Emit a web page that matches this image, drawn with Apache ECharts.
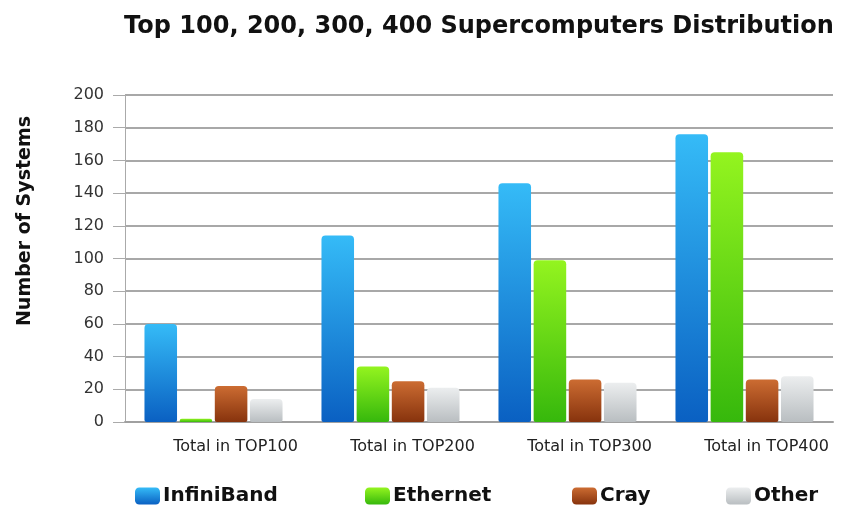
<!DOCTYPE html>
<html lang="en">
  <head>
    <meta charset="UTF-8" />
    <title>Top 100, 200, 300, 400 Supercomputers Distribution</title>
    <script src="https://cdn.jsdelivr.net/npm/echarts@6/dist/echarts.min.js"></script>
    <style>
      * { margin: 0; padding: 0; box-sizing: border-box; }
      body { background: #fff; overflow: hidden; }
      #chart { width: 849px; height: 508px; }
    </style>
  </head>
  <body>
    <div id="chart"></div>
    <script>
      // data
      const categories = ["Total in TOP100", "Total in TOP200", "Total in TOP300", "Total in TOP400"];
      const infiniband = [60, 114, 146, 176];
      const ethernet = [2, 34, 99, 165];
      const cray = [22, 25, 26, 26];
      const other = [14, 21, 24, 28];
      const seriesNames = ["InfiniBand", "Ethernet", "Cray", "Other"];

      // top colour / bottom colour of each bar gradient
      const colours = [
        ["#35bbf7", "#0a60c2"],
        ["#94f41f", "#36b80c"],
        ["#cc6c32", "#87330d"],
        ["#eceeef", "#b9bec1"],
      ];

      function grad(c) {
        return new echarts.graphic.LinearGradient(0, 0, 0, 1, [
          { offset: 0, color: c[0] },
          { offset: 1, color: c[1] },
        ]);
      }

      const allValues = [infiniband, ethernet, cray, other];
      const legendLeft = [135, 365, 572, 726];

      const myChart = echarts.init(document.getElementById("chart"));

      const option = {
        animation: false,
        title: {
          text: "Top 100, 200, 300, 400 Supercomputers Distribution",
          left: 474,
          textAlign: "center",
          top: 10,
          textStyle: {
            fontFamily: "DejaVu Sans",
            fontWeight: "bold",
            fontSize: 24,
            color: "#111",
          },
        },
        // one legend per item so each sits where the reference has it
        legend: seriesNames.map((name, i) => ({
          data: [name],
          left: legendLeft[i],
          top: 486,
          itemWidth: 25,
          itemHeight: 17,
          itemGap: 4,
          padding: 0,
          textStyle: {
            fontFamily: "DejaVu Sans",
            fontWeight: "bold",
            fontSize: 20,
            color: "#111",
            padding: [0, 0, 0, -2],
          },
        })),
        grid: { left: 125, right: 16, top: 95, bottom: 86 },
        xAxis: {
          type: "category",
          data: categories,
          axisTick: { show: false },
          axisLine: { lineStyle: { color: "#a0a0a0", width: 2 } },
          axisLabel: {
            margin: 17,
            padding: [0, 0, 0, 44],
            fontFamily: "DejaVu Sans",
            fontSize: 16,
            color: "#222",
          },
        },
        yAxis: {
          type: "value",
          min: 0,
          max: 200,
          interval: 20,
          name: "Number of Systems",
          nameLocation: "middle",
          nameGap: 90,
          nameTextStyle: {
            fontFamily: "DejaVu Sans",
            fontWeight: "bold",
            fontSize: 19,
            color: "#111",
            padding: [0, 0, 0, 75],
          },
          axisLine: { show: true, lineStyle: { color: "#aaa" } },
          axisTick: { show: true, length: 12, lineStyle: { color: "#aaa" } },
          axisLabel: {
            margin: 21,
            fontFamily: "DejaVu Sans",
            fontSize: 16,
            color: "#333",
          },
          splitLine: { lineStyle: { color: "#a8a8a8", width: 2 } },
        },
        series: seriesNames.map((name, i) => ({
          name: name,
          type: "bar",
          data: allValues[i],
          barGap: "8%",
          barCategoryGap: "22%",
          itemStyle: {
            color: grad(colours[i]),
            borderRadius: [4, 4, 2, 2],
          },
        })),
      };

      myChart.setOption(option);
    </script>
  </body>
</html>
